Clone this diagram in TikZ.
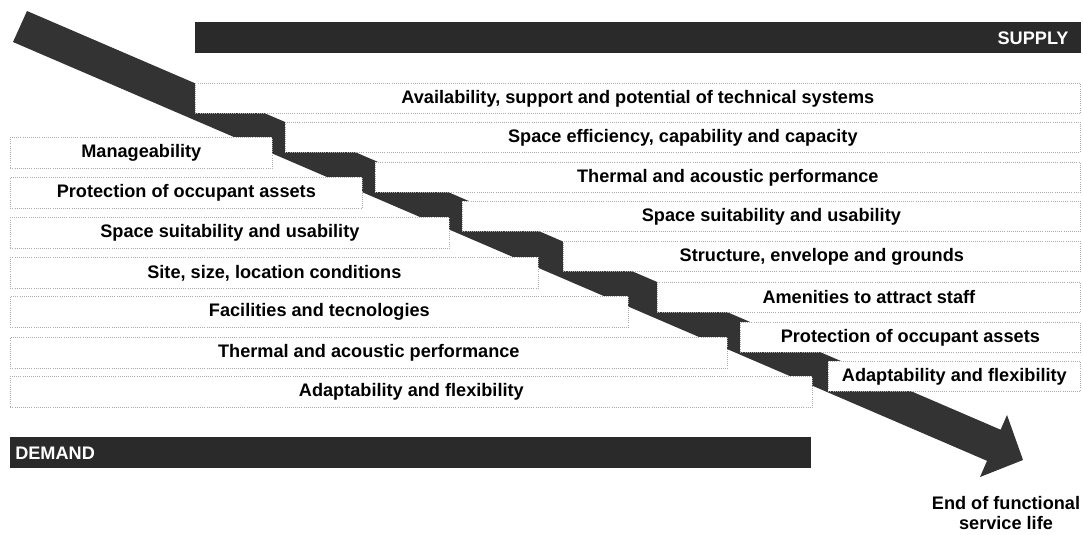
\documentclass[tikz,border=0pt]{standalone}
\usepackage{fontspec}
\setmainfont{Liberation Sans}
\definecolor{banddark}{HTML}{333333}
\definecolor{bardark}{HTML}{2A2A2A}
\begin{document}
\begin{tikzpicture}[x=0.025cm,y=-0.025cm,line join=round,
	font=\bfseries\fontsize{12.9}{14.5}\selectfont,
	box/.style={draw=gray!65,densely dotted,line width=0.5pt,fill=white,inner sep=0pt,anchor=north west},
	bar/.style={fill=bardark,inner sep=0pt,anchor=north west,minimum height=0.775cm},
	bartext/.style={text=white,inner sep=0pt}]
	\useasboundingbox (0,0) rectangle (1083,534);
	% stair arrow
	\fill[banddark] (27,11) -- (1000.6,429.7) -- (1007,415) -- (1023,460) -- (980,477) -- (987,460.8) -- (13,42) -- cycle;
	% supply side
	\node[bar,minimum width=22.125cm] (supply) at (195,22) {};
	\node[bartext,anchor=east] (supplytxt) at ([xshift=-0.3cm]supply.east) {SUPPLY};
	\foreach \lx/\ty/\txt [count=\i] in {195/83/{Availability, support and potential of technical systems},
		285/122/{Space efficiency, capability and capacity},
		375/162/{Thermal and acoustic performance},
		462/201/{Space suitability and usability},
		563/241/{Structure, envelope and grounds},
		657/282/{Amenities to attract staff},
		740/322/{Protection of occupant assets},
		828/361/{Adaptability and flexibility}}
		\node[box,minimum width={(1080-\lx)*0.025cm},minimum height=0.75cm] (sup\i) at (\lx,\ty) {\txt};
	% demand side
	\foreach \rx/\ty/\txt [count=\i] in {272/137/{Manageability},
		362/177/{Protection of occupant assets},
		449/217/{Space suitability and usability},
		538/257/{Site, size, location conditions},
		628/296/{Facilities and tecnologies},
		727/337/{Thermal and acoustic performance},
		812/376/{Adaptability and flexibility}}
		\node[box,minimum width={(\rx-10)*0.025cm},minimum height=0.775cm] (dem\i) at (10,\ty) {\txt};
	\node[bar,minimum width=20cm] (demand) at (10,437) {};
	\node[bartext,anchor=west] (demandtxt) at ([xshift=0.125cm]demand.west) {DEMAND};
	\node[align=center,inner sep=0pt] (endlife) at (1006,513) {End of functional\\service life};
\end{tikzpicture}
\end{document}
